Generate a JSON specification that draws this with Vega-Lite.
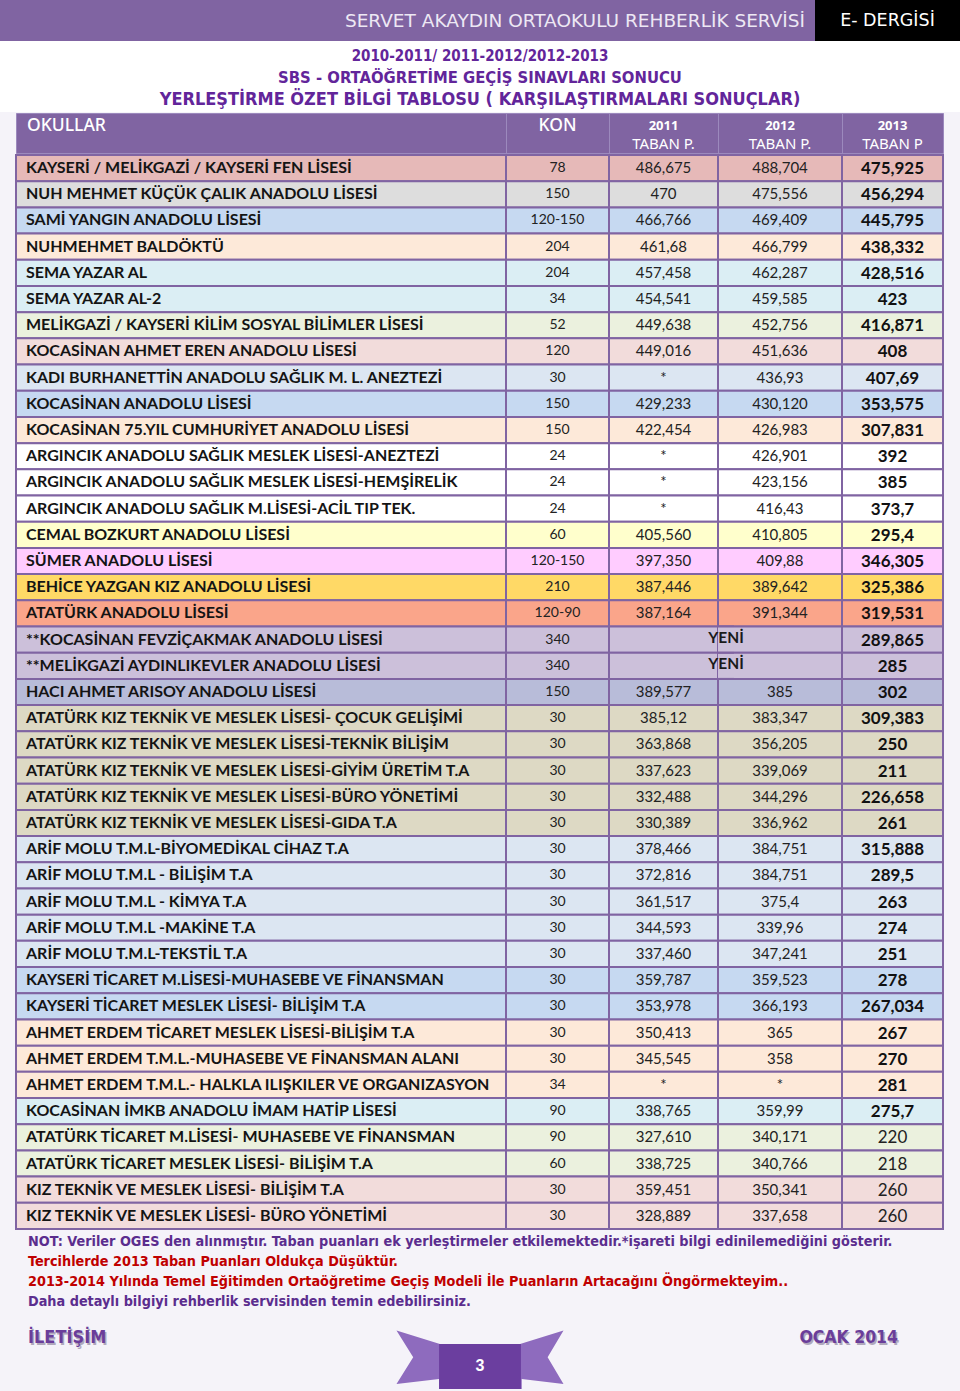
{
  "$schema": "https://vega.github.io/schema/vega-lite/v6.json",
  "padding": 0,
  "background": "#F5F3F9",
  "spacing": 0,
  "config": {"view": {"stroke": null}, "concat": {"spacing": 0}},
  "resolve": {"scale": {"color": "independent", "size": "independent"}},
  "datasets": {
    "okullar": [
      {"no": 1, "okul": "KAYSERİ / MELİKGAZİ / KAYSERİ FEN LİSESİ", "kon": "78", "y2011": "486,675", "y2012": "488,704", "y2013": "475,925", "grup": "A"},
      {"no": 2, "okul": "NUH MEHMET KÜÇÜK ÇALIK ANADOLU LİSESİ", "kon": "150", "y2011": "470", "y2012": "475,556", "y2013": "456,294", "grup": "B"},
      {"no": 3, "okul": "SAMİ YANGIN ANADOLU LİSESİ", "kon": "120-150", "y2011": "466,766", "y2012": "469,409", "y2013": "445,795", "grup": "C"},
      {"no": 4, "okul": "NUHMEHMET BALDÖKTÜ", "kon": "204", "y2011": "461,68", "y2012": "466,799", "y2013": "438,332", "grup": "D"},
      {"no": 5, "okul": "SEMA YAZAR AL", "kon": "204", "y2011": "457,458", "y2012": "462,287", "y2013": "428,516", "grup": "E"},
      {"no": 6, "okul": "SEMA YAZAR AL-2", "kon": "34", "y2011": "454,541", "y2012": "459,585", "y2013": "423", "grup": "E"},
      {"no": 7, "okul": "MELİKGAZİ / KAYSERİ KİLİM SOSYAL BİLİMLER LİSESİ", "kon": "52", "y2011": "449,638", "y2012": "452,756", "y2013": "416,871", "grup": "F"},
      {"no": 8, "okul": "KOCASİNAN AHMET EREN ANADOLU LİSESİ", "kon": "120", "y2011": "449,016", "y2012": "451,636", "y2013": "408", "grup": "G"},
      {"no": 9, "okul": "KADI BURHANETTİN ANADOLU SAĞLIK M. L. ANEZTEZİ", "kon": "30", "y2011": "*", "y2012": "436,93", "y2013": "407,69", "grup": "H"},
      {"no": 10, "okul": "KOCASİNAN ANADOLU LİSESİ", "kon": "150", "y2011": "429,233", "y2012": "430,120", "y2013": "353,575", "grup": "C"},
      {"no": 11, "okul": "KOCASİNAN 75.YIL CUMHURİYET ANADOLU LİSESİ", "kon": "150", "y2011": "422,454", "y2012": "426,983", "y2013": "307,831", "grup": "D"},
      {"no": 12, "okul": "ARGINCIK ANADOLU SAĞLIK MESLEK LİSESİ-ANEZTEZİ", "kon": "24", "y2011": "*", "y2012": "426,901", "y2013": "392", "grup": "I"},
      {"no": 13, "okul": "ARGINCIK ANADOLU SAĞLIK MESLEK LİSESİ-HEMŞİRELİK", "kon": "24", "y2011": "*", "y2012": "423,156", "y2013": "385", "grup": "I"},
      {"no": 14, "okul": "ARGINCIK ANADOLU SAĞLIK M.LİSESİ-ACİL TIP TEK.", "kon": "24", "y2011": "*", "y2012": "416,43", "y2013": "373,7", "grup": "I"},
      {"no": 15, "okul": "CEMAL BOZKURT ANADOLU LİSESİ", "kon": "60", "y2011": "405,560", "y2012": "410,805", "y2013": "295,4", "grup": "J"},
      {"no": 16, "okul": "SÜMER ANADOLU LİSESİ", "kon": "120-150", "y2011": "397,350", "y2012": "409,88", "y2013": "346,305", "grup": "K"},
      {"no": 17, "okul": "BEHİCE YAZGAN KIZ ANADOLU LİSESİ", "kon": "210", "y2011": "387,446", "y2012": "389,642", "y2013": "325,386", "grup": "L"},
      {"no": 18, "okul": "ATATÜRK ANADOLU LİSESİ", "kon": "120-90", "y2011": "387,164", "y2012": "391,344", "y2013": "319,531", "grup": "M"},
      {"no": 19, "okul": "**KOCASİNAN FEVZİÇAKMAK ANADOLU LİSESİ", "kon": "340", "y2011": "YENİ", "y2012": "YENİ", "y2013": "289,865", "grup": "N"},
      {"no": 20, "okul": "**MELİKGAZİ AYDINLIKEVLER ANADOLU LİSESİ", "kon": "340", "y2011": "YENİ", "y2012": "YENİ", "y2013": "285", "grup": "N"},
      {"no": 21, "okul": "HACI AHMET ARISOY ANADOLU LİSESİ", "kon": "150", "y2011": "389,577", "y2012": "385", "y2013": "302", "grup": "O"},
      {"no": 22, "okul": "ATATÜRK KIZ TEKNİK VE MESLEK LİSESİ- ÇOCUK GELİŞİMİ", "kon": "30", "y2011": "385,12", "y2012": "383,347", "y2013": "309,383", "grup": "P"},
      {"no": 23, "okul": "ATATÜRK KIZ TEKNİK VE MESLEK LİSESİ-TEKNİK BİLİŞİM", "kon": "30", "y2011": "363,868", "y2012": "356,205", "y2013": "250", "grup": "P"},
      {"no": 24, "okul": "ATATÜRK KIZ TEKNİK VE MESLEK LİSESİ-GİYİM ÜRETİM T.A", "kon": "30", "y2011": "337,623", "y2012": "339,069", "y2013": "211", "grup": "P"},
      {"no": 25, "okul": "ATATÜRK KIZ TEKNİK VE MESLEK LİSESİ-BÜRO YÖNETİMİ", "kon": "30", "y2011": "332,488", "y2012": "344,296", "y2013": "226,658", "grup": "P"},
      {"no": 26, "okul": "ATATÜRK KIZ TEKNİK VE MESLEK LİSESİ-GIDA T.A", "kon": "30", "y2011": "330,389", "y2012": "336,962", "y2013": "261", "grup": "P"},
      {"no": 27, "okul": "ARİF MOLU T.M.L-BİYOMEDİKAL CİHAZ T.A", "kon": "30", "y2011": "378,466", "y2012": "384,751", "y2013": "315,888", "grup": "H"},
      {"no": 28, "okul": "ARİF MOLU T.M.L - BİLİŞİM T.A", "kon": "30", "y2011": "372,816", "y2012": "384,751", "y2013": "289,5", "grup": "H"},
      {"no": 29, "okul": "ARİF MOLU T.M.L - KİMYA T.A", "kon": "30", "y2011": "361,517", "y2012": "375,4", "y2013": "263", "grup": "H"},
      {"no": 30, "okul": "ARİF MOLU T.M.L -MAKİNE T.A", "kon": "30", "y2011": "344,593", "y2012": "339,96", "y2013": "274", "grup": "H"},
      {"no": 31, "okul": "ARİF MOLU T.M.L-TEKSTİL T.A", "kon": "30", "y2011": "337,460", "y2012": "347,241", "y2013": "251", "grup": "H"},
      {"no": 32, "okul": "KAYSERİ TİCARET M.LİSESİ-MUHASEBE VE FİNANSMAN", "kon": "30", "y2011": "359,787", "y2012": "359,523", "y2013": "278", "grup": "C"},
      {"no": 33, "okul": "KAYSERİ TİCARET MESLEK LİSESİ- BİLİŞİM T.A", "kon": "30", "y2011": "353,978", "y2012": "366,193", "y2013": "267,034", "grup": "C"},
      {"no": 34, "okul": "AHMET ERDEM TİCARET MESLEK LİSESİ-BİLİŞİM T.A", "kon": "30", "y2011": "350,413", "y2012": "365", "y2013": "267", "grup": "D"},
      {"no": 35, "okul": "AHMET ERDEM T.M.L.-MUHASEBE VE FİNANSMAN ALANI", "kon": "30", "y2011": "345,545", "y2012": "358", "y2013": "270", "grup": "D"},
      {"no": 36, "okul": "AHMET ERDEM T.M.L.- HALKLA ILIŞKILER VE ORGANIZASYON", "kon": "34", "y2011": "*", "y2012": "*", "y2013": "281", "grup": "D"},
      {"no": 37, "okul": "KOCASİNAN İMKB ANADOLU İMAM HATİP LİSESİ", "kon": "90", "y2011": "338,765", "y2012": "359,99", "y2013": "275,7", "grup": "E"},
      {"no": 38, "okul": "ATATÜRK TİCARET M.LİSESİ- MUHASEBE VE FİNANSMAN", "kon": "90", "y2011": "327,610", "y2012": "340,171", "y2013": "220", "grup": "F"},
      {"no": 39, "okul": "ATATÜRK TİCARET MESLEK LİSESİ- BİLİŞİM T.A", "kon": "60", "y2011": "338,725", "y2012": "340,766", "y2013": "218", "grup": "F"},
      {"no": 40, "okul": "KIZ TEKNİK VE MESLEK LİSESİ- BİLİŞİM T.A", "kon": "30", "y2011": "359,451", "y2012": "350,341", "y2013": "260", "grup": "G"},
      {"no": 41, "okul": "KIZ TEKNİK VE MESLEK LİSESİ- BÜRO YÖNETİMİ", "kon": "30", "y2011": "328,889", "y2012": "337,658", "y2013": "260", "grup": "G"}
    ]
  },
  "vconcat": [
    {
      "spacing": 0,
      "bounds": "flush",
      "hconcat": [
        {
          "width": 815, "height": 41,
          "view": {"fill": "#8064A2", "stroke": null},
          "data": {"values": [{"yer": "sag", "metin": "SERVET AKAYDIN ORTAOKULU REHBERLİK SERVİSİ"}]},
          "mark": {"type": "text", "align": "right", "baseline": "middle", "dx": -10, "font": "DejaVu Sans", "fontSize": 18.5, "color": "#EDE8F4"},
          "encoding": {
            "x": {"field": "yer", "type": "nominal", "scale": {"type": "point", "align": 1, "padding": 0}, "axis": null},
            "text": {"field": "metin"}
          }
        },
        {
          "width": 145, "height": 41,
          "view": {"fill": "#000000", "stroke": null},
          "data": {"values": [{"metin": "E- DERGİSİ"}]},
          "mark": {"type": "text", "align": "center", "baseline": "middle", "font": "DejaVu Sans", "fontSize": 17.5, "color": "#FFFFFF"},
          "encoding": {"text": {"field": "metin"}}
        }
      ]
    },
    {
      "width": 960, "height": 71,
      "view": {"fill": "#FFFFFF", "stroke": null},
      "data": {"values": [
        {"satir": "1", "metin": "2010-2011/ 2011-2012/2012-2013"},
        {"satir": "2", "metin": "SBS - ORTAÖĞRETİME GEÇİŞ SINAVLARI SONUCU"},
        {"satir": "3", "metin": "YERLEŞTİRME ÖZET BİLGİ TABLOSU ( KARŞILAŞTIRMALARI SONUÇLAR)"}
      ]},
      "mark": {"type": "text", "align": "center", "baseline": "middle", "font": "Liberation Sans Narrow, DejaVu Sans Condensed, Liberation Sans", "fontWeight": "bold", "color": "#62259A"},
      "encoding": {
        "y": {"field": "satir", "type": "ordinal", "scale": {"type": "point", "padding": 0.614, "align": 0.556}, "axis": null},
        "size": {"field": "satir", "type": "ordinal", "scale": {"domain": ["1", "2", "3"], "range": [15, 18, 16]}, "legend": null},
        "text": {"field": "metin"}
      }
    },
    {
      "spacing": 0,
      "bounds": "flush",
      "hconcat": [
        {"width": 16, "height": 40, "data": {"values": []}, "mark": "text"},
        {
          "width": 490, "height": 40,
          "view": {"fill": "#8064A2", "stroke": "#9C89BD"},
          "data": {"values": [{"satir": "ust", "yer": "sol", "metin": "OKULLAR"}]},
          "mark": {"type": "text", "align": "left", "baseline": "middle", "dx": 11, "font": "Noto Sans", "fontWeight": 500, "fontSize": 17.5, "color": "#FFFFFF"},
          "encoding": {
            "x": {"field": "yer", "type": "nominal", "scale": {"type": "point", "align": 0, "padding": 0}, "axis": null},
            "y": {"field": "satir", "type": "nominal", "scale": {"type": "point", "domain": ["ust", "alt"], "padding": 0.58, "align": 0.59}, "axis": null},
            "text": {"field": "metin"}
          }
        },
        {
          "width": 103, "height": 40,
          "view": {"fill": "#8064A2", "stroke": "#9C89BD"},
          "data": {"values": [{"satir": "ust", "metin": "KON"}]},
          "mark": {"type": "text", "align": "center", "baseline": "middle", "font": "Noto Sans", "fontWeight": 500, "fontSize": 17.5, "color": "#FFFFFF"},
          "encoding": {
            "y": {"field": "satir", "type": "nominal", "scale": {"type": "point", "domain": ["ust", "alt"], "padding": 0.58, "align": 0.59}, "axis": null},
            "text": {"field": "metin"}
          }
        },
        {
          "width": 109, "height": 40,
          "view": {"fill": "#8064A2", "stroke": "#9C89BD"},
          "data": {"values": [{"satir": "ust", "metin": "2011"}, {"satir": "alt", "metin": "TABAN P."}]},
          "encoding": {
            "y": {"field": "satir", "type": "nominal", "scale": {"type": "point", "domain": ["ust", "alt"], "padding": 0.58, "align": 0.59}, "axis": null},
            "text": {"field": "metin"}
          },
          "layer": [
            {"transform": [{"filter": "datum.satir == 'ust'"}], "mark": {"type": "text", "baseline": "middle", "font": "Noto Sans", "fontWeight": "bold", "fontSize": 13, "color": "#FFFFFF"}},
            {"transform": [{"filter": "datum.satir == 'alt'"}], "mark": {"type": "text", "baseline": "middle", "font": "Noto Sans", "fontSize": 15, "color": "#FFFFFF"}}
          ]
        },
        {
          "width": 124, "height": 40,
          "view": {"fill": "#8064A2", "stroke": "#9C89BD"},
          "data": {"values": [{"satir": "ust", "metin": "2012"}, {"satir": "alt", "metin": "TABAN P."}]},
          "encoding": {
            "y": {"field": "satir", "type": "nominal", "scale": {"type": "point", "domain": ["ust", "alt"], "padding": 0.58, "align": 0.59}, "axis": null},
            "text": {"field": "metin"}
          },
          "layer": [
            {"transform": [{"filter": "datum.satir == 'ust'"}], "mark": {"type": "text", "baseline": "middle", "font": "Noto Sans", "fontWeight": "bold", "fontSize": 13, "color": "#FFFFFF"}},
            {"transform": [{"filter": "datum.satir == 'alt'"}], "mark": {"type": "text", "baseline": "middle", "font": "Noto Sans", "fontSize": 15, "color": "#FFFFFF"}}
          ]
        },
        {
          "width": 101, "height": 40,
          "view": {"fill": "#8064A2", "stroke": "#9C89BD"},
          "data": {"values": [{"satir": "ust", "metin": "2013"}, {"satir": "alt", "metin": "TABAN P"}]},
          "encoding": {
            "y": {"field": "satir", "type": "nominal", "scale": {"type": "point", "domain": ["ust", "alt"], "padding": 0.58, "align": 0.59}, "axis": null},
            "text": {"field": "metin"}
          },
          "layer": [
            {"transform": [{"filter": "datum.satir == 'ust'"}], "mark": {"type": "text", "baseline": "middle", "font": "Noto Sans", "fontWeight": "bold", "fontSize": 13, "color": "#FFFFFF"}},
            {"transform": [{"filter": "datum.satir == 'alt'"}], "mark": {"type": "text", "baseline": "middle", "font": "Noto Sans", "fontSize": 15, "color": "#FFFFFF"}}
          ]
        }
      ]
    },
    {
      "spacing": 0,
      "bounds": "flush",
      "hconcat": [
        {"width": 16, "height": 1074, "data": {"values": []}, "mark": "text"},
        {
          "width": 490, "height": 1074,
          "data": {"name": "okullar"},
          "encoding": {"y": {"field": "no", "type": "ordinal", "scale": {"paddingInner": 0, "paddingOuter": 0}, "axis": null}},
          "layer": [
            {
              "mark": {"type": "rect", "stroke": "#8064A2", "strokeWidth": 2},
              "encoding": {"color": {"field": "grup", "type": "nominal", "legend": null, "scale": {"domain": ["A","B","C","D","E","F","G","H","I","J","K","L","M","N","O","P"], "range": ["#E6B9B8","#DDDDDD","#C6D9F1","#FDE9D9","#DBEEF4","#EBF1DE","#F2DCDB","#DCE6F2","#FFFFFF","#FFFFCC","#FFCCFF","#FFD966","#FAA58A","#CCC0DA","#B8BCD9","#DDD9C4"]}}}
            },
            {
              "mark": {"type": "text", "align": "left", "baseline": "middle", "dx": 10, "font": "Lato", "fontWeight": "bold", "fontSize": 16, "color": "#141414"},
              "encoding": {
                "x": {"datum": "sol", "type": "nominal", "scale": {"type": "point", "align": 0, "padding": 0}, "axis": null},
                "text": {"field": "okul"}
              }
            }
          ]
        },
        {
          "width": 103, "height": 1074,
          "data": {"name": "okullar"},
          "encoding": {"y": {"field": "no", "type": "ordinal", "scale": {"paddingInner": 0, "paddingOuter": 0}, "axis": null}},
          "layer": [
            {
              "mark": {"type": "rect", "stroke": "#8064A2", "strokeWidth": 2},
              "encoding": {"color": {"field": "grup", "type": "nominal", "legend": null, "scale": {"domain": ["A","B","C","D","E","F","G","H","I","J","K","L","M","N","O","P"], "range": ["#E6B9B8","#DDDDDD","#C6D9F1","#FDE9D9","#DBEEF4","#EBF1DE","#F2DCDB","#DCE6F2","#FFFFFF","#FFFFCC","#FFCCFF","#FFD966","#FAA58A","#CCC0DA","#B8BCD9","#DDD9C4"]}}}
            },
            {
              "mark": {"type": "text", "align": "center", "baseline": "middle", "font": "Lato", "fontSize": 14, "color": "#222222"},
              "encoding": {"text": {"field": "kon"}}
            }
          ]
        },
        {
          "width": 109, "height": 1074,
          "data": {"name": "okullar"},
          "encoding": {"y": {"field": "no", "type": "ordinal", "scale": {"paddingInner": 0, "paddingOuter": 0}, "axis": null}},
          "layer": [
            {
              "mark": {"type": "rect", "stroke": "#8064A2", "strokeWidth": 2},
              "encoding": {"color": {"field": "grup", "type": "nominal", "legend": null, "scale": {"domain": ["A","B","C","D","E","F","G","H","I","J","K","L","M","N","O","P"], "range": ["#E6B9B8","#DDDDDD","#C6D9F1","#FDE9D9","#DBEEF4","#EBF1DE","#F2DCDB","#DCE6F2","#FFFFFF","#FFFFCC","#FFCCFF","#FFD966","#FAA58A","#CCC0DA","#B8BCD9","#DDD9C4"]}}}
            },
            {
              "transform": [{"filter": "datum.y2011 != 'YENİ'"}],
              "mark": {"type": "text", "align": "center", "baseline": "middle", "font": "Lato", "fontSize": 15, "color": "#222222"},
              "encoding": {"text": {"field": "y2011"}}
            }
          ]
        },
        {
          "width": 124, "height": 1074,
          "data": {"name": "okullar"},
          "encoding": {"y": {"field": "no", "type": "ordinal", "scale": {"paddingInner": 0, "paddingOuter": 0}, "axis": null}},
          "layer": [
            {
              "mark": {"type": "rect", "stroke": "#8064A2", "strokeWidth": 2},
              "encoding": {"color": {"field": "grup", "type": "nominal", "legend": null, "scale": {"domain": ["A","B","C","D","E","F","G","H","I","J","K","L","M","N","O","P"], "range": ["#E6B9B8","#DDDDDD","#C6D9F1","#FDE9D9","#DBEEF4","#EBF1DE","#F2DCDB","#DCE6F2","#FFFFFF","#FFFFCC","#FFCCFF","#FFD966","#FAA58A","#CCC0DA","#B8BCD9","#DDD9C4"]}}}
            },
            {
              "transform": [{"filter": "datum.y2012 == 'YENİ'"}],
              "mark": {"type": "rect", "xOffset": -108},
              "encoding": {"color": {"field": "grup", "type": "nominal", "legend": null, "scale": {"domain": ["A","B","C","D","E","F","G","H","I","J","K","L","M","N","O","P"], "range": ["#E6B9B8","#DDDDDD","#C6D9F1","#FDE9D9","#DBEEF4","#EBF1DE","#F2DCDB","#DCE6F2","#FFFFFF","#FFFFCC","#FFCCFF","#FFD966","#FAA58A","#CCC0DA","#B8BCD9","#DDD9C4"]}}}
            },
            {
              "transform": [{"filter": "datum.y2012 == 'YENİ'"}],
              "mark": {"type": "rule", "color": "#8064A2", "strokeWidth": 2, "xOffset": -108},
              "encoding": {"y": {"field": "no", "type": "ordinal", "bandPosition": 0}}
            },
            {
              "transform": [{"filter": "datum.y2012 == 'YENİ'"}],
              "mark": {"type": "rule", "color": "#8064A2", "strokeWidth": 2, "xOffset": -108},
              "encoding": {"y": {"field": "no", "type": "ordinal", "bandPosition": 1}}
            },
            {
              "transform": [{"filter": "datum.y2012 != 'YENİ'"}],
              "mark": {"type": "text", "align": "center", "baseline": "middle", "font": "Lato", "fontSize": 15, "color": "#222222"},
              "encoding": {"text": {"field": "y2012"}}
            },
            {
              "transform": [{"filter": "datum.y2012 == 'YENİ'"}],
              "mark": {"type": "text", "align": "center", "baseline": "middle", "dx": -54, "dy": -2, "font": "Lato", "fontWeight": "bold", "fontSize": 15.5, "color": "#1A1A1A"},
              "encoding": {"text": {"field": "y2012"}}
            }
          ]
        },
        {
          "width": 101, "height": 1074,
          "data": {"name": "okullar"},
          "encoding": {"y": {"field": "no", "type": "ordinal", "scale": {"paddingInner": 0, "paddingOuter": 0}, "axis": null}},
          "layer": [
            {
              "mark": {"type": "rect", "stroke": "#8064A2", "strokeWidth": 2},
              "encoding": {"color": {"field": "grup", "type": "nominal", "legend": null, "scale": {"domain": ["A","B","C","D","E","F","G","H","I","J","K","L","M","N","O","P"], "range": ["#E6B9B8","#DDDDDD","#C6D9F1","#FDE9D9","#DBEEF4","#EBF1DE","#F2DCDB","#DCE6F2","#FFFFFF","#FFFFCC","#FFCCFF","#FFD966","#FAA58A","#CCC0DA","#B8BCD9","#DDD9C4"]}}}
            },
            {
              "transform": [{"filter": "datum.no <= 37"}],
              "mark": {"type": "text", "align": "center", "baseline": "middle", "dy": 1, "font": "Lato", "fontWeight": "bold", "fontSize": 17, "color": "#111111"},
              "encoding": {"text": {"field": "y2013"}}
            },
            {
              "transform": [{"filter": "datum.no >= 38"}],
              "mark": {"type": "text", "align": "center", "baseline": "middle", "dy": 1, "font": "Lato", "fontSize": 17, "color": "#222222"},
              "encoding": {"text": {"field": "y2013"}}
            }
          ]
        }
      ]
    },
    {
      "width": 960, "height": 96,
      "data": {"values": [
        {"satir": "1", "tur": "not", "yer": "sol", "metin": "NOT: Veriler OGES den alınmıştır. Taban puanları ek yerleştirmeler etkilemektedir.*işareti bilgi edinilemediğini gösterir."},
        {"satir": "2", "tur": "uyari", "yer": "sol", "metin": "Tercihlerde 2013 Taban Puanları Oldukça Düşüktür."},
        {"satir": "3", "tur": "uyari", "yer": "sol", "metin": "2013-2014 Yılında Temel Eğitimden Ortaöğretime Geçiş Modeli İle Puanların Artacağını Öngörmekteyim.."},
        {"satir": "4", "tur": "not", "yer": "sol", "metin": "Daha detaylı bilgiyi rehberlik servisinden temin edebilirsiniz."}
      ]},
      "encoding": {
        "x": {"field": "yer", "type": "nominal", "scale": {"type": "point", "align": 0, "padding": 0}, "axis": null},
        "y": {"field": "satir", "type": "ordinal", "scale": {"type": "point", "domain": ["1", "2", "3", "4"], "padding": 0.864, "align": 0.33}, "axis": null},
        "text": {"field": "metin"}
      },
      "layer": [
        {
          "transform": [{"filter": "datum.tur == 'not'"}],
          "mark": {"type": "text", "align": "left", "baseline": "middle", "dx": 28, "font": "Liberation Sans Narrow, DejaVu Sans Condensed, Liberation Sans", "fontWeight": "bold", "fontSize": 14.3, "color": "#5B2D8E"}
        },
        {
          "transform": [{"filter": "datum.tur == 'uyari'"}],
          "mark": {"type": "text", "align": "left", "baseline": "middle", "dx": 28, "font": "Liberation Sans Narrow, DejaVu Sans Condensed, Liberation Sans", "fontWeight": "bold", "fontSize": 14.3, "color": "#C00000"}
        }
      ]
    },
    {
      "width": 960, "height": 66,
      "data": {"values": [
        {"yer": "sol", "metin": "İLETİŞİM"},
        {"yer": "orta", "metin": "3"},
        {"yer": "sag", "metin": "OCAK 2014"}
      ]},
      "encoding": {
        "x": {"field": "yer", "type": "nominal", "scale": {"type": "point", "domain": ["sol", "orta", "sag"], "padding": 0, "align": 0.5}, "axis": null}
      },
      "layer": [
        {
          "transform": [{"filter": "datum.yer == 'orta'"}],
          "mark": {"type": "point", "filled": true, "opacity": 1, "size": 27889, "color": "#8E6BBE", "shape": "M-1,-0.34L-0.48,-0.18L0.48,-0.18L1,-0.34L0.81,-0.02L1,0.3L0.5,0.24L0.5,0.36L-0.49,0.36L-0.49,0.24L-1,0.3L-0.8,-0.02Z"},
          "encoding": {}
        },
        {
          "transform": [{"filter": "datum.yer == 'orta'"}],
          "mark": {"type": "point", "filled": true, "opacity": 1, "size": 27889, "color": "#6B3E9F", "shape": "M-0.49,-0.18L0.49,-0.18L0.49,0.36L-0.49,0.36Z"},
          "encoding": {}
        },
        {
          "transform": [{"filter": "datum.yer == 'orta'"}],
          "mark": {"type": "text", "align": "center", "baseline": "middle", "dy": 7, "font": "Liberation Sans Narrow, Liberation Sans", "fontWeight": "bold", "fontSize": 16, "color": "#FFFFFF"},
          "encoding": {"text": {"field": "metin"}}
        },
        {
          "transform": [{"filter": "datum.yer == 'sol'"}],
          "mark": {"type": "text", "align": "left", "baseline": "middle", "dx": 29.5, "dy": -19.5, "font": "Liberation Sans Narrow, DejaVu Sans Condensed, Liberation Sans", "fontWeight": "bold", "fontSize": 18, "color": "#B0A8BC"},
          "encoding": {"text": {"field": "metin"}}
        },
        {
          "transform": [{"filter": "datum.yer == 'sol'"}],
          "mark": {"type": "text", "align": "left", "baseline": "middle", "dx": 28, "dy": -21, "font": "Liberation Sans Narrow, DejaVu Sans Condensed, Liberation Sans", "fontWeight": "bold", "fontSize": 18, "color": "#6A3D9A"},
          "encoding": {"text": {"field": "metin"}}
        },
        {
          "transform": [{"filter": "datum.yer == 'sag'"}],
          "mark": {"type": "text", "align": "right", "baseline": "middle", "dx": -60.5, "dy": -19.5, "font": "Liberation Sans Narrow, DejaVu Sans Condensed, Liberation Sans", "fontWeight": "bold", "fontSize": 17.5, "color": "#B0A8BC"},
          "encoding": {"text": {"field": "metin"}}
        },
        {
          "transform": [{"filter": "datum.yer == 'sag'"}],
          "mark": {"type": "text", "align": "right", "baseline": "middle", "dx": -62, "dy": -21, "font": "Liberation Sans Narrow, DejaVu Sans Condensed, Liberation Sans", "fontWeight": "bold", "fontSize": 17.5, "color": "#6A3D9A"},
          "encoding": {"text": {"field": "metin"}}
        }
      ]
    }
  ]
}
